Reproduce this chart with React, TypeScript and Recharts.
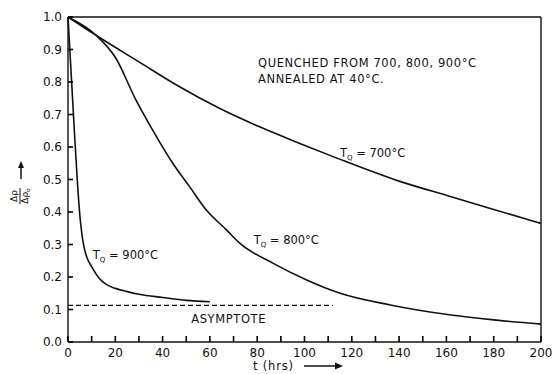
import { LineChart, Line, XAxis, YAxis, ReferenceLine, ReferenceDot } from 'recharts'

// annealing times (hrs) and relative resistivity for each quench temperature
const T700 = [0, 12, 30, 47, 64, 81, 98, 114, 140, 162, 180, 200]
const R700 = [1.0, 0.943, 0.862, 0.786, 0.719, 0.662, 0.611, 0.565, 0.495, 0.447, 0.408, 0.365]

const T800 = [0, 12, 20, 28.7, 35.8, 44.3, 51.4, 58.5, 67, 72.6, 86.8, 100.9, 115.1, 136.3, 162, 180, 200]
const R800 = [1.0, 0.943, 0.876, 0.745, 0.652, 0.55, 0.478, 0.406, 0.345, 0.304, 0.242, 0.191, 0.15, 0.114, 0.083, 0.068, 0.055]

const T900 = [0, 1, 2, 3, 4, 5, 6, 7, 8, 10, 13, 16, 20, 25, 30, 40, 50, 60]
const R900 = [1.0, 0.87, 0.74, 0.61, 0.49, 0.39, 0.325, 0.285, 0.26, 0.232, 0.198, 0.178, 0.165, 0.155, 0.147, 0.137, 0.128, 0.124]

const ASYM_T = [0, 112]
const ASYM_R = [0.113, 0.113]

const X_TICKS = [0, 10, 20, 30, 40, 50, 60, 70, 80, 90, 100, 110, 120, 130, 140, 150, 160, 170, 180, 190, 200]
const Y_TICKS = [0, 0.1, 0.2, 0.3, 0.4, 0.5, 0.6, 0.7, 0.8, 0.9, 1.0]

const toRows = (ts: number[], rs: number[]) => ts.map((t, i) => ({ t, r: rs[i] }))

const FONT = '"DejaVu Sans", sans-serif'
const INK = '#111'
const TICK_LEN = 6
const TICK_GAP = 6 // distance from axis line to label anchor

// inward tick mark plus label
const XTick = (props: any) => {
  const { x, y, payload } = props
  const v = Number(payload.value)
  const axisY = y - TICK_GAP
  return (
    <g>
      <path d={`M${x},${axisY}v${-TICK_LEN}`} stroke="black" strokeWidth={1.6} fill="none" />
      {v % 20 === 0 && (
        <text x={x} y={y} dy="0.71em" textAnchor="middle" fontFamily={FONT} fontSize={12} fill={INK}>
          {v}
        </text>
      )}
    </g>
  )
}

const YTick = (props: any) => {
  const { x, y, payload } = props
  const v = Number(payload.value)
  const axisX = x + TICK_GAP
  return (
    <g>
      <path d={`M${axisX},${y}h${TICK_LEN - 1}`} stroke="black" strokeWidth={1.6} fill="none" />
      <text x={x} y={y} dy="0.355em" textAnchor="end" fontFamily={FONT} fontSize={12} fill={INK}>
        {v.toFixed(1)}
      </text>
    </g>
  )
}

const curveLabel = (temp: string) => (props: any) => {
  const { x, y } = props.viewBox
  return (
    <text x={x} y={y} fontFamily={FONT} fontSize={11.5} fill={INK}>
      <tspan>T</tspan>
      <tspan dy={3} fontSize={7}>Q</tspan>
      <tspan dy={-3}>{` = ${temp}°C`}</tspan>
    </text>
  )
}

export default function App() {
  return (
    <div style={{ position: 'absolute', left: 0, top: 0, width: 554, height: 374, background: '#fff' }}>
      <LineChart width={554} height={374} margin={{ top: 17, right: 13, left: 0, bottom: 2 }}>
        <XAxis
          type="number"
          dataKey="t"
          domain={[0, 200]}
          ticks={X_TICKS}
          interval={0}
          tickLine={false}
          tickSize={-6}
          tickMargin={12}
          stroke={INK}
          strokeWidth={1.4}
          tick={<XTick />}
          height={30}
        />
        <YAxis
          type="number"
          dataKey="r"
          domain={[0, 1]}
          ticks={Y_TICKS}
          interval={0}
          tickLine={false}
          tickSize={-6}
          tickMargin={12}
          stroke={INK}
          strokeWidth={1.4}
          tick={<YTick />}
          width={68}
        />
        <ReferenceLine y={1} stroke={INK} strokeWidth={1.4} />
        <ReferenceLine x={200} stroke={INK} strokeWidth={1.4} />
        <Line data={toRows(ASYM_T, ASYM_R)} dataKey="r" type="linear" stroke={INK} strokeWidth={1.2} strokeDasharray="5 3" dot={false} isAnimationActive={false} />
        <Line data={toRows(T700, R700)} dataKey="r" type="monotone" stroke={INK} strokeWidth={1.6} dot={false} isAnimationActive={false} />
        <Line data={toRows(T800, R800)} dataKey="r" type="monotone" stroke={INK} strokeWidth={1.6} dot={false} isAnimationActive={false} />
        <Line data={toRows(T900, R900)} dataKey="r" type="monotone" stroke={INK} strokeWidth={1.6} dot={false} isAnimationActive={false} />
        <ReferenceDot x={115} y={0.568} r={0} label={curveLabel('700')} />
        <ReferenceDot x={78.5} y={0.301} r={0} label={curveLabel('800')} />
        <ReferenceDot x={10.5} y={0.255} r={0} label={curveLabel('900')} />
        <ReferenceDot
          x={50}
          y={0.07}
          r={0}
          label={{ value: 'ASYMPTOTE', position: 'right', fill: INK, fontSize: 11.5, fontFamily: FONT, letterSpacing: 0.6 }}
        />
      </LineChart>
      <svg width={554} height={374} style={{ position: 'absolute', left: 0, top: 0, pointerEvents: 'none' }}>
        <g fontFamily={FONT} fill={INK} fontSize={11.5} letterSpacing={0.6}>
          <text x={258} y={67}>QUENCHED FROM 700, 800, 900°C</text>
          <text x={258} y={83}>ANNEALED AT 40°C.</text>
        </g>
        <text x={253} y={370} fontFamily={FONT} fontSize={11.5} fill={INK} letterSpacing={0.8}>t (hrs)</text>
        <line x1={304} y1={366} x2={337} y2={366} stroke={INK} strokeWidth={1.5} />
        <path d="M343,366 L335,362.5 L335,369.5 Z" fill={INK} />
        <g transform="translate(20,196) rotate(-90)" fontFamily={FONT} fill={INK}>
          <text x={0} y={-3} textAnchor="middle" fontSize={9}>Δρ</text>
          <line x1={-8} y1={0} x2={8} y2={0} stroke={INK} strokeWidth={1} />
          <text x={0} y={8} textAnchor="middle" fontSize={9}>
            Δρ<tspan dy={2} fontSize={6}>o</tspan>
          </text>
          <line x1={17} y1={1} x2={30} y2={1} stroke={INK} strokeWidth={1.5} />
          <path d="M35,1 L28,-2 L28,4 Z" fill={INK} />
        </g>
      </svg>
    </div>
  )
}
